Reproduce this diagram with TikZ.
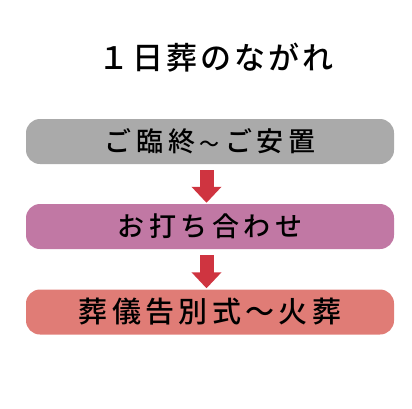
\documentclass[tikz,border=0pt]{standalone}
\usepackage{fontspec}
\usepackage{xcolor}
\usepackage{tikz}
\usetikzlibrary{arrows.meta,positioning}
\newfontfamily\jptitle{Noto Sans CJK JP}[UprightFont=* Medium,LetterSpace=10]
\newfontfamily\jpbar{Noto Sans CJK JP}[UprightFont=* Medium,LetterSpace=17]
\newfontfamily\jpbig{Noto Sans CJK JP}[UprightFont=* Medium,LetterSpace=15]
\definecolor{stepgray}{HTML}{AAAAAA}
\definecolor{steppurple}{HTML}{C178A4}
\definecolor{steppink}{HTML}{E07C76}
\definecolor{arrowred}{HTML}{CF3440}

\begin{document}
\begin{tikzpicture}[x=1pt,y=-1pt,
  bar/.style={rounded corners=14pt,minimum width=368pt,minimum height=45pt,inner sep=0pt,font=\jpbar\fontsize{27}{30}\selectfont},
  flowarrow/.style={draw=arrowred,line width=14pt,-{Triangle[width=29pt,length=16pt]},shorten <=6pt,shorten >=1pt}]
\useasboundingbox (0,0) rectangle (412,408);
\node[font=\jptitle\fontsize{31}{34}\selectfont] (title) at (216,58) {１日葬のながれ};

\node[bar,fill=stepgray] (rinju) at (210,141.5) {ご臨終\hspace{4pt}{\fontsize{20}{22}\selectfont ～}\hspace{6pt}ご安置};
\node[bar,fill=steppurple] (uchiawase) at (210,226.5) {お打ち合わせ};
\node[bar,fill=steppink,font=\jpbig\fontsize{29}{32}\selectfont] (kaso) at (210,312) {葬儀告別式～火葬};

\draw[flowarrow] ([xshift=-3.5pt]rinju.south) -- ([xshift=-3.5pt]uchiawase.north);
\draw[flowarrow] ([xshift=-3.5pt]uchiawase.south) -- ([xshift=-3.5pt]kaso.north);
\end{tikzpicture}
\end{document}
